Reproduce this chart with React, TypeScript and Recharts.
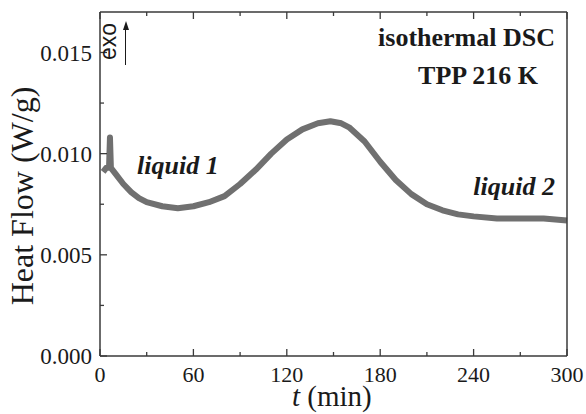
import React from 'react'
import { LineChart, Line, XAxis, YAxis } from 'recharts'

// time in minutes and heat flow in W/g (band centre, incl. the short spike near t = 6)
const timeMin = [2, 4, 5.8, 6.4, 7.0, 8, 10, 15, 20, 25, 30, 40, 50, 60, 70, 80, 90, 100, 110, 120, 130, 140, 148, 155, 160, 170, 180, 190, 200, 210, 220, 230, 240, 255, 270, 285, 300]
const heatFlow = [0.0091, 0.0093, 0.0093, 0.0108, 0.0093, 0.0092, 0.0090, 0.0085, 0.0081, 0.0078, 0.0076, 0.0074, 0.0073, 0.0074, 0.0076, 0.0079, 0.0085, 0.0092, 0.0100, 0.0107, 0.0112, 0.0115, 0.0116, 0.0115, 0.0113, 0.0106, 0.0096, 0.0087, 0.0080, 0.0075, 0.0072, 0.0070, 0.0069, 0.0068, 0.0068, 0.0068, 0.0067]

const xTicks = [0, 30, 60, 90, 120, 150, 180, 210, 240, 270, 300]
const xMajor = [0, 60, 120, 180, 240, 300]
const yTicks = [0, 0.0025, 0.005, 0.0075, 0.01, 0.0125, 0.015]
const yMajor = [0, 0.005, 0.01, 0.015]

const serif = '"Liberation Serif", "Times New Roman", serif'
const sans = '"Liberation Sans", Arial, sans-serif'
const axisColor = '#3a3a3a'
const textColor = '#1a1a1a'
const traceColor = '#707070'

const rows = timeMin.map((t, i) => ({ t, hf: heatFlow[i] }))

function bottomTick(p: any) {
  const { x, y, payload } = p
  const major = xMajor.includes(payload.value)
  return (
    <g key={'b' + payload.value}>
      <path d={`M${x},${y}V${y - (major ? 7 : 4)}`} stroke={axisColor} strokeWidth={1.3} fill="none" />
      {major && (
        <text x={x} y={y + 26} textAnchor="middle" fontSize={22} fontFamily={serif} fill={textColor}>
          {payload.value}
        </text>
      )}
    </g>
  )
}

function topTick(p: any) {
  const { x, y, payload } = p
  const major = xMajor.includes(payload.value)
  return <path key={'t' + payload.value} d={`M${x},${y}V${y + (major ? 7 : 4)}`} stroke={axisColor} strokeWidth={1.3} fill="none" />
}

function leftTick(p: any) {
  const { x, y, payload } = p
  const major = yMajor.includes(payload.value)
  return (
    <g key={'l' + payload.value}>
      <path d={`M${x},${y}H${x + (major ? 7 : 4)}`} stroke={axisColor} strokeWidth={1.3} fill="none" />
      {major && (
        <text x={x - 8} y={y} dy="0.35em" textAnchor="end" fontSize={23} fontFamily={serif} fill={textColor}>
          {payload.value.toFixed(3)}
        </text>
      )}
    </g>
  )
}

function rightTick(p: any) {
  const { x, y, payload } = p
  const major = yMajor.includes(payload.value)
  return <path key={'r' + payload.value} d={`M${x},${y}H${x - (major ? 7 : 4)}`} stroke={axisColor} strokeWidth={1.3} fill="none" />
}

// plain html text, line-height 1 so the baseline sits ~0.84em below the top
const note = (extra: React.CSSProperties): React.CSSProperties => ({
  position: 'absolute', lineHeight: 1, whiteSpace: 'nowrap', color: textColor,
  fontFamily: serif, pointerEvents: 'none', ...extra,
})

export default function App() {
  return (
    <div style={{ position: 'absolute', left: 0, top: 0, width: 586, height: 414, background: '#fff' }}>
      <LineChart width={586} height={414} data={rows} margin={{ top: 11, right: 18, left: 0, bottom: 0 }}>
        <XAxis
          dataKey="t" type="number" domain={[0, 300]} ticks={xTicks} interval={0}
          height={58} tickSize={0} tickMargin={0} tickLine={false}
          stroke={axisColor} strokeWidth={1.5} tick={bottomTick}
        />
        <XAxis
          xAxisId="top" orientation="top" dataKey="t" type="number" domain={[0, 300]} ticks={xTicks} interval={0}
          height={1} tickSize={0} tickMargin={0} tickLine={false}
          stroke={axisColor} strokeWidth={1.5} tick={topTick}
        />
        <YAxis
          type="number" domain={[0, 0.017]} ticks={yTicks} interval={0}
          width={100} tickSize={0} tickMargin={0} tickLine={false}
          stroke={axisColor} strokeWidth={1.5} tick={leftTick}
        />
        <YAxis
          yAxisId="right" orientation="right" type="number" domain={[0, 0.017]} ticks={yTicks} interval={0}
          width={1} tickSize={0} tickMargin={0} tickLine={false}
          stroke={axisColor} strokeWidth={1.5} tick={rightTick}
        />
        <Line type="linear" dataKey="hf" stroke={traceColor} strokeWidth={6} strokeLinejoin="round" dot={false} isAnimationActive={false} />
      </LineChart>

      <div style={note({ left: -128, top: 180, width: 300, height: 32, fontSize: 32, textAlign: 'center', transform: 'rotate(-90deg)' })}>
        Heat Flow (W/g)
      </div>
      <div style={note({ left: 292, top: 382, fontSize: 29 })}>
        <i>t</i> (min)
      </div>
      <div style={note({ right: 31, top: 25, fontSize: 26, fontWeight: 'bold' })}>isothermal DSC</div>
      <div style={note({ right: 48, top: 63, fontSize: 26, fontWeight: 'bold' })}>TPP 216 K</div>
      <div style={note({ left: 137, top: 153, fontSize: 26, fontWeight: 'bold', fontStyle: 'italic' })}>liquid 1</div>
      <div style={note({ right: 31, top: 174, fontSize: 26, fontWeight: 'bold', fontStyle: 'italic' })}>liquid 2</div>
      <div style={note({ left: 78, top: 30, width: 60, height: 23, fontSize: 23, fontFamily: sans, textAlign: 'center', transform: 'rotate(-90deg)' })}>
        exo
      </div>
      <div style={{ position: 'absolute', left: 125, top: 29, width: 0, height: 36, borderLeft: `1.3px solid ${textColor}` }} />
      <div style={{ position: 'absolute', left: 122.5, top: 21, width: 0, height: 0, borderLeft: '3.5px solid transparent', borderRight: '3.5px solid transparent', borderBottom: `9px solid ${textColor}` }} />
    </div>
  )
}
